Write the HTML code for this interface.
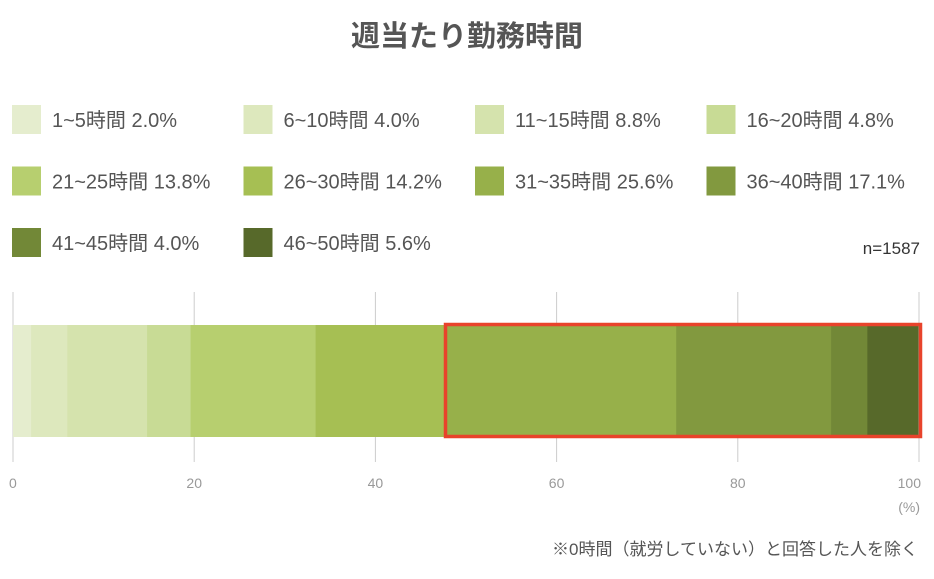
<!DOCTYPE html>
<html><head><meta charset="utf-8"><style>
body{margin:0;width:934px;height:574px;background:#fff;font-family:"Liberation Sans","Noto Sans CJK JP",sans-serif;overflow:hidden}
</style></head><body>
<svg id="c" width="934" height="574" xmlns="http://www.w3.org/2000/svg">
<text x="467" y="46" text-anchor="middle" font-size="29" font-weight="bold" fill="#555">週当たり勤務時間</text>
<g id="legend"></g>
<text x="920" y="254" text-anchor="end" font-size="17" fill="#333">n=1587</text>
<g id="grid"></g>
<g id="bars"></g>
<rect x="445.5" y="324.5" width="475" height="112" fill="none" stroke="#e8432b" stroke-width="3.5"/>
<text x="920" y="512" text-anchor="end" font-size="14" fill="#999">(%)</text>
<text x="918" y="555" text-anchor="end" font-size="17" fill="#555">※0時間（就労していない）と回答した人を除く</text>
</svg>
<script>
const categories=["1~5時間","6~10時間","11~15時間","16~20時間","21~25時間","26~30時間","31~35時間","36~40時間","41~45時間","46~50時間"];
const values=[2.0,4.0,8.8,4.8,13.8,14.2,25.6,17.1,4.0,5.6];
const colors=["#e5edce","#dde8bd","#d5e3ad","#c8db95","#b7cf6f","#a6bf53","#97b04a","#82993f","#728837","#57692a"];
const ticks=[0,20,40,60,80,100];
const NS="http://www.w3.org/2000/svg";
const x0=13,x1=919;
const xs=v=>x0+(x1-x0)*v/100;
const lg=document.getElementById('legend');
categories.forEach((c,i)=>{
  const col=i%4,row=Math.floor(i/4);
  const lx=12+col*231.5,ly=105+row*61.5;
  const r=document.createElementNS(NS,'rect');
  r.setAttribute('x',lx);r.setAttribute('y',ly);r.setAttribute('width',29);r.setAttribute('height',29);r.setAttribute('fill',colors[i]);
  
  
  lg.appendChild(r);
  const t=document.createElementNS(NS,'text');
  t.setAttribute('x',lx+40);t.setAttribute('y',ly+22);t.setAttribute('font-size','20');t.setAttribute('fill','#555');
  t.textContent=c+" "+values[i].toFixed(1)+"%";
  
  
  lg.appendChild(t);
});
const g=document.getElementById('grid');
ticks.forEach(v=>{
  const l=document.createElementNS(NS,'line');
  l.setAttribute('x1',xs(v));l.setAttribute('x2',xs(v));l.setAttribute('y1',292);l.setAttribute('y2',462);l.setAttribute('stroke','#ccc');l.setAttribute('stroke-width','1');
  
  
  g.appendChild(l);
  const t=document.createElementNS(NS,'text');
  t.setAttribute('x',xs(v));t.setAttribute('y',488);t.setAttribute('font-size','14');t.setAttribute('fill','#999');
  t.setAttribute('text-anchor',v===0?'start':(v===100?'end':'middle'));
  if(v===0)t.setAttribute('x',xs(v)-4);
  if(v===100)t.setAttribute('x',xs(v)+2);
  t.textContent=v;
  
  
  g.appendChild(t);
});
const b=document.getElementById('bars');
let acc=0;
values.forEach((v,i)=>{
  const r=document.createElementNS(NS,'rect');
  r.setAttribute('x',xs(acc));r.setAttribute('width',xs(acc+v)-xs(acc)+0.5);
  r.setAttribute('y',325);r.setAttribute('height',112);r.setAttribute('fill',colors[i]);
  
  
  b.appendChild(r);
  acc+=v;
});
</script>
</body></html>
